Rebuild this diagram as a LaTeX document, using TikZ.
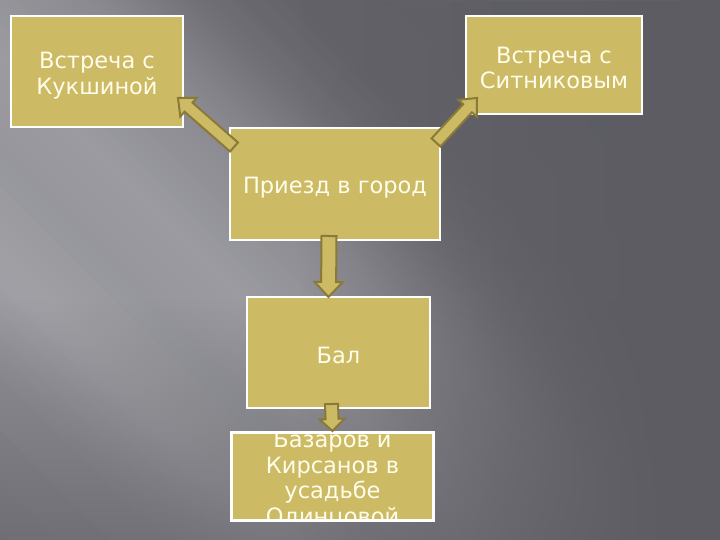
\documentclass[tikz,border=0pt]{standalone}
\usepackage{fontspec}
\setmainfont{DejaVu Sans}
\usetikzlibrary{calc,fadings}
\definecolor{boxgold}{HTML}{CDBA64}
\definecolor{arrowline}{HTML}{8A7A38}
\definecolor{textivory}{HTML}{FFFDEB}
\definecolor{gA}{HTML}{5C5C62}
\definecolor{gB}{HTML}{626268}
\definecolor{gC}{HTML}{68686E}
\definecolor{gD}{HTML}{707076}
\definecolor{gE}{HTML}{7D7D83}
\definecolor{gF}{HTML}{8A8A90}
\definecolor{gG}{HTML}{8E8E94}
\definecolor{gH}{HTML}{9B9BA1}
\definecolor{gI}{HTML}{96969C}
\definecolor{gJ}{HTML}{A0A0A6}
\definecolor{gK}{HTML}{919197}
\definecolor{gL}{HTML}{78787E}
\definecolor{bgdark}{HTML}{5C5C62}
\tikzfading[name=fadeRight, left color=transparent!100, right color=transparent!0]
\tikzfading[name=fadeDown, top color=transparent!100, bottom color=transparent!40]
\newcommand\bgseg[4]{%
  \foreach \k in {0,...,9}{%
    \pgfmathsetmacro\ta{#1+(#2-#1)*\k/10}%
    \pgfmathsetmacro\tb{#1+(#2-#1)*(\k+1)/10+0.8}%
    \pgfmathsetmacro\pc{100-100*(\k+0.5)/10}%
    \fill[#3!\pc!#4] (-800,\ta) rectangle (800,\tb);
  }}
\newcommand\blockarrow[5]{%
  \coordinate (#1h) at ($(#2)!#5!(#1)$);
  \draw[arrowshape] ($(#1)!#3!90:(#2)$) -- ($(#1h)!#3!90:(#2)$) -- ($(#1h)!#4!90:(#2)$)
    -- (#2) -- ($(#1h)!#4!-90:(#2)$) -- ($(#1h)!#3!-90:(#2)$) -- ($(#1)!#3!-90:(#2)$) -- cycle;}
\tikzset{
  box/.style={draw=white, line width=2pt, fill=boxgold, inner sep=0pt},
  boxtext/.style={text=textivory, font=\fontsize{22.5}{25.5}\selectfont, align=center, inner sep=0pt},
  boxborder/.style={draw=white, line width=2pt},
  arrowshape/.style={fill=boxgold, draw=arrowline, line width=2pt, line join=miter}
}
\begin{document}
\begin{tikzpicture}[x=1pt,y=-1pt]
\useasboundingbox (0,0) rectangle (720,540);
% background
\begin{scope}
  \clip (0,0) rectangle (720,540);
  \begin{scope}[shift={(360,270)}, rotate=-45]
    \bgseg{-700}{-150}{gA}{gB}
    \bgseg{-150}{-110}{gB}{gC}
    \bgseg{-110}{-75}{gC}{gD}
    \bgseg{-75}{-40}{gD}{gE}
    \bgseg{-40}{0}{gE}{gF}
    \bgseg{0}{30}{gF}{gG}
    \bgseg{30}{100}{gG}{gH}
    \bgseg{100}{170}{gH}{gI}
    \bgseg{170}{255}{gI}{gJ}
    \bgseg{255}{330}{gJ}{gK}
    \bgseg{330}{700}{gK}{gL}
  \end{scope}
  \fill[bgdark, path fading=fadeDown] (0,300) rectangle (720,540);
  \fill[bgdark, path fading=fadeRight] (300,0) rectangle (680,540);
  \fill[bgdark] (679.5,0) rectangle (720,540);
\end{scope}
% boxes
\node[box, minimum width=172pt, minimum height=111pt] (kuk) at (97,71.5) {};
\node[box, minimum width=176pt, minimum height=98pt] (sit) at (554,65) {};
\node[box, minimum width=210pt, minimum height=112pt] (pri) at (335,184) {};
\node[box, minimum width=183pt, minimum height=111pt] (bal) at (338.5,352.5) {};
\node[box, minimum width=201pt, minimum height=87pt] (baz) at (332.5,476.5) {};
\node[boxtext] (kukt) at ($(kuk.center)+(0,4)$) {Встреча с\\Кукшиной};
\node[boxtext] (sitt) at ($(sit.center)+(0,3)$) {Встреча с\\Ситниковым};
\node[boxtext] (prit) at ($(pri.center)+(0,4)$) {Приезд в город};
\node[boxtext] (balt) at ($(bal.center)+(0,3)$) {Бал};
\begin{scope}
  \clip (baz.north west) rectangle (baz.south east);
  \node[boxtext] (bazt) at ($(baz.center)+(0,3)$) {Базаров и\\Кирсанов в\\усадьбе\\Одинцовой};
\end{scope}
\draw[boxborder] (baz.north west) rectangle (baz.south east);
% arrows
\coordinate (a1s) at ($(pri.north west)+(5,20)$);
\coordinate (a1e) at ($(kuk.south east)+(-6,-30)$);
\coordinate (a2s) at ($(pri.north east)+(-5,15.5)$);
\coordinate (a2e) at ($(sit.south west)+(12,-17)$);
\coordinate (a3s) at ($(pri.south)+(-6,-5)$);
\coordinate (a3e) at ($(bal.north)+(-10,1)$);
\coordinate (a4s) at ($(bal.south)+(-7,-5)$);
\coordinate (a4e) at ($(baz.north)+(0,-1)$);
\blockarrow{a1s}{a1e}{6pt}{12.5pt}{14pt}
\blockarrow{a2s}{a2e}{6pt}{12.5pt}{14pt}
\blockarrow{a3s}{a3e}{7.5pt}{14pt}{15pt}
\blockarrow{a4s}{a4e}{6.5pt}{12.5pt}{12pt}
\end{tikzpicture}
\end{document}
